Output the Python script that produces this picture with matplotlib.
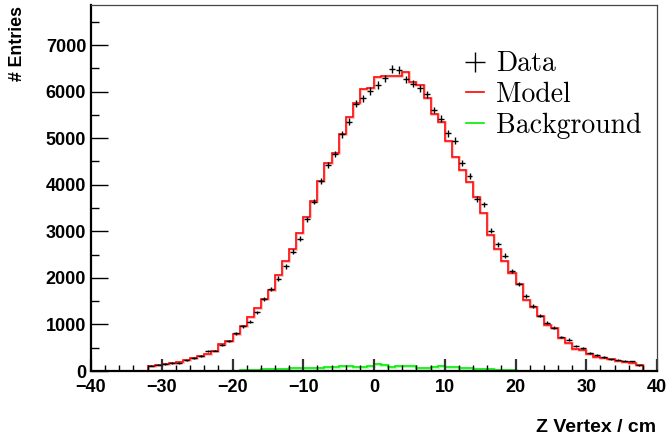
import numpy as np
import matplotlib
matplotlib.use("Agg")
import matplotlib.pyplot as plt
from matplotlib.lines import Line2D
from matplotlib.ticker import MultipleLocator

# 1 cm bins, filled range starts at z = -32
z_first = -32
data = [110, 130, 150, 170, 170, 230, 280, 320, 430, 440,
        560, 650, 810, 960, 1060, 1260, 1550, 1770, 1985, 2245,
        2565, 2840, 3260, 3640, 4080, 4430, 4665, 5080, 5355, 5740,
        5855, 6015, 6145, 6285, 6485, 6460, 6265, 6170, 6070, 5940,
        5605, 5420, 5105, 4945, 4470, 4185, 3700, 3580, 3010, 2720,
        2480, 2150, 1865, 1615, 1400, 1190, 1040, 930, 730, 675,
        540, 490, 385, 350, 300, 250, 245, 225, 210, 120]
model = [100, 130, 150, 180, 195, 245, 280, 315, 375, 430,
         580, 650, 790, 970, 1155, 1355, 1550, 1735, 2065, 2370,
         2610, 2970, 3300, 3650, 4085, 4460, 4690, 5090, 5450, 5750,
         6060, 6085, 6320, 6330, 6330, 6340, 6420, 6200, 6135, 5855,
         5520, 5355, 4940, 4590, 4315, 4055, 3730, 3400, 2920, 2630,
         2360, 2095, 1870, 1535, 1375, 1190, 980, 925, 710, 600,
         475, 445, 375, 310, 280, 250, 225, 200, 180, 120]
background = [0, 0, 0, 0, 0, 0, 0, 0, 0, 0,
              0, 5, 10, 15, 20, 30, 40, 45, 45, 50,
              55, 55, 55, 60, 75, 85, 95, 105, 110, 85,
              95, 100, 160, 130, 90, 115, 100, 100, 75, 75,
              95, 100, 95, 85, 75, 65, 45, 40, 35, 20,
              20, 15, 10, 5, 0, 0, 0, 0, 0, 0,
              0, 0, 0, 0, 0, 0, 0, 0, 0, 0]

edges = np.arange(-40, 41, 1.0)
centers = 0.5 * (edges[:-1] + edges[1:])


def pad(vals):
    full = np.zeros(len(centers))
    i0 = z_first + 40
    full[i0:i0 + len(vals)] = vals
    return full


d = pad(data)
m = pad(model)
b = pad(background)

fig = plt.figure(figsize=(6.69, 4.41), dpi=100)
ax = fig.add_axes([91 / 669, 1 - 371 / 441, 566 / 669, 366 / 441])

# background and model as step histograms, a soft copy underneath
ax.stairs(b, edges, color="#7cff7c", lw=2.2, alpha=0.6)
ax.stairs(b, edges, color="#00ee00", lw=1.1)
ax.stairs(m, edges, color="#ff7070", lw=2.0, alpha=0.45)
ax.stairs(m, edges, color="red", lw=1.1)

ax.errorbar(centers, d, xerr=0.42, yerr=np.sqrt(d), fmt="none",
            ecolor="black", elinewidth=1.0, capsize=0)

ax.set_xlim(-40, 40)
ax.set_ylim(0, 7860)

ax.xaxis.set_major_locator(MultipleLocator(10))
ax.xaxis.set_minor_locator(MultipleLocator(2))
ax.yaxis.set_major_locator(MultipleLocator(1000))
ax.yaxis.set_minor_locator(MultipleLocator(500))

tick_font = dict(family="Liberation Sans", weight="bold", size=13)
ax.tick_params(axis="both", which="both", direction="in",
               top=False, right=False)
ax.tick_params(axis="y", which="major", length=12, width=1.0, pad=3.5)
ax.tick_params(axis="y", which="minor", length=6, width=1.0)
ax.tick_params(axis="x", which="major", length=8.6, width=1.6,
               color="#333333", pad=6)
ax.tick_params(axis="x", which="minor", length=4.3, width=1.0)
for lab in ax.get_xticklabels() + ax.get_yticklabels():
    lab.set_fontproperties(tick_font)

for side in ("left", "bottom"):
    ax.spines[side].set_linewidth(1.6)
    ax.spines[side].set_color("black")
for side in ("top", "right"):
    ax.spines[side].set_linewidth(0.9)
    ax.spines[side].set_color("#444444")

fig.text(656 / 669, 1 - 427 / 441, "Z Vertex / cm", ha="right",
         va="center", family="Liberation Sans", weight="bold", size=14)
fig.text(18 / 669, 1 - 6 / 441, "# Entries", rotation=90, ha="center",
         va="top", family="Liberation Sans", weight="bold", size=12.8)

handles = [
    Line2D([], [], color="black", marker="+", markersize=14,
           markeredgewidth=1.0, linestyle="none"),
    Line2D([], [], color="red", lw=1.2),
    Line2D([], [], color="#00ee00", lw=1.2),
]
ax.legend(handles, ["Data", "Model", "Background"],
          prop=dict(family="cmr10", size=20), frameon=False,
          handlelength=0.66, handletextpad=0.43, labelspacing=0.16,
          borderpad=0, borderaxespad=0,
          loc="upper left", bbox_to_anchor=((466 - 91) / 566, (371 - 51) / 366))

fig.savefig("out.png", dpi=100)
